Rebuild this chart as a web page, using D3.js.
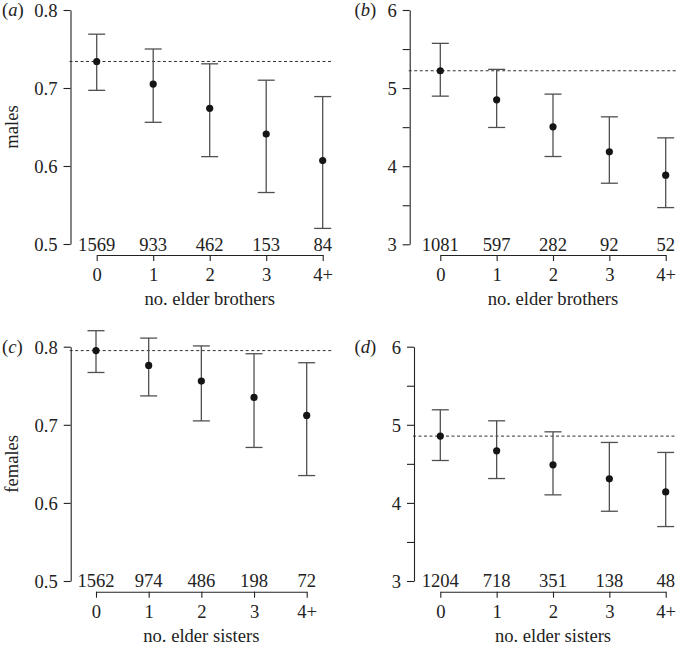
<!DOCTYPE html>
<html>
<head>
<meta charset="utf-8">
<script src="https://cdn.jsdelivr.net/npm/d3@7"></script>
<style>
html,body{margin:0;padding:0;background:#fff;}
svg{display:block;}
text{font-family:"Liberation Serif","Times New Roman",serif;fill:#222;}
</style>
</head>
<body>
<svg id="chart" width="676" height="647"></svg>
<script>
// ---- data ----
const categories = ["0", "1", "2", "3", "4+"];

const aMeans = [0.734, 0.705, 0.674, 0.641, 0.607];
const aLow   = [0.697, 0.656, 0.612, 0.566, 0.520];
const aHigh  = [0.769, 0.750, 0.731, 0.710, 0.689];
const aCounts = [1569, 933, 462, 153, 84];
const aRef = 0.734;

const bMeans = [5.222, 4.85, 4.504, 4.184, 3.885];
const bLow   = [4.897, 4.496, 4.124, 3.782, 3.47];
const bHigh  = [5.573, 5.24, 4.923, 4.632, 4.363];
const bCounts = [1081, 597, 282, 92, 52];
const bRef = 5.222;

const cMeans = [0.795, 0.776, 0.756, 0.735, 0.712];
const cLow   = [0.767, 0.737, 0.705, 0.671, 0.635];
const cHigh  = [0.8205, 0.811, 0.801, 0.791, 0.7795];
const cCounts = [1562, 974, 486, 198, 72];
const cRef = 0.795;

const dMeans = [4.855, 4.667, 4.487, 4.308, 4.141];
const dLow   = [4.543, 4.312, 4.103, 3.893, 3.697];
const dHigh  = [5.192, 5.051, 4.91, 4.774, 4.646];
const dCounts = [1204, 718, 351, 138, 48];
const dRef = 4.855;

const aTicks = [0.5, 0.6, 0.7, 0.8];
const bTicks = [3, 3.5, 4, 4.5, 5, 5.5, 6];

// ---- layout ----
const panels = [
  {label:"a", means:aMeans, low:aLow, high:aHigh, counts:aCounts, ref:aRef,
   domain:[0.5,0.8], ticks:aTicks, fmt:d3.format(".1f"), labelled:aTicks,
   axisX:70.5, yTop:10, yBot:244, xAxisY:255, xr:[96.7,322.7], dashEnd:333,
   ylab:"males", xlab:"no. elder brothers", labX:2},
  {label:"b", means:bMeans, low:bLow, high:bHigh, counts:bCounts, ref:bRef,
   domain:[3,6], ticks:bTicks, fmt:d3.format("d"), labelled:[3,4,5,6],
   axisX:409.7, yTop:10, yBot:244.3, xAxisY:255, xr:[440.3,665.7], dashEnd:676,
   ylab:null, xlab:"no. elder brothers", labX:354.5},
  {label:"c", means:cMeans, low:cLow, high:cHigh, counts:cCounts, ref:cRef,
   domain:[0.5,0.8], ticks:aTicks, fmt:d3.format(".1f"), labelled:aTicks,
   axisX:70.7, yTop:346.7, yBot:581, xAxisY:591.7, xr:[96,306.7], dashEnd:333,
   ylab:"females", xlab:"no. elder sisters", labX:2},
  {label:"d", means:dMeans, low:dLow, high:dHigh, counts:dCounts, ref:dRef,
   domain:[3,6], ticks:bTicks, fmt:d3.format("d"), labelled:[3,4,5,6],
   axisX:414, yTop:346.7, yBot:581, xAxisY:591.7, xr:[440.3,665.7], dashEnd:676,
   ylab:null, xlab:"no. elder sisters", labX:354.5}
];

const svg = d3.select("#chart");
const FS = 18.6;
const FONT = "'Liberation Serif', 'Times New Roman', serif";
const axisColor = "#222";
const barColor = "#505050";

panels.forEach(p => {
  const g = svg.append("g").style("font-family", FONT);
  const y = d3.scaleLinear().domain(p.domain).range([p.yBot, p.yTop]);
  const x = d3.scalePoint().domain(categories).range(p.xr);

  // y axis
  const yAx = g.append("g").attr("transform", `translate(${p.axisX},0)`)
    .call(d3.axisLeft(y).tickValues(p.ticks).tickSize(7).tickSizeOuter(0)
      .tickFormat(d => p.labelled.includes(d) ? p.fmt(d) : ""));
  yAx.attr("font-family", null).attr("font-size", null);
  yAx.selectAll("path,line").attr("stroke", axisColor).attr("stroke-width", 1.1);
  yAx.selectAll("text").style("font-family", FONT).attr("font-size", FS)
    .attr("fill", "#222").attr("x", -13).attr("dy", "0.34em");

  // x axis
  const xAx = g.append("g").attr("transform", `translate(0,${p.xAxisY})`)
    .call(d3.axisBottom(x).tickSize(6).tickSizeOuter(0));
  xAx.attr("font-family", null).attr("font-size", null);
  xAx.selectAll("path,line").attr("stroke", axisColor).attr("stroke-width", 1.1);
  xAx.selectAll("text").style("font-family", FONT).attr("font-size", FS)
    .attr("fill", "#222").attr("y", 13).attr("dy", "0.71em");

  // counts
  g.selectAll("text.count").data(p.counts).join("text").attr("class", "count")
    .attr("x", (d, i) => x(categories[i]))
    .attr("y", p.xAxisY - 4.5)
    .attr("text-anchor", "middle").attr("font-size", FS)
    .style("font-family", FONT)
    .text(d => d);

  // x label
  g.append("text").attr("x", (p.xr[0] + p.xr[1]) / 2).attr("y", p.xAxisY + 50)
    .attr("text-anchor", "middle").attr("font-size", FS)
    .style("font-family", FONT).text(p.xlab);

  // y label
  if (p.ylab) {
    g.append("text")
      .attr("transform", `translate(18,${(p.yTop + p.yBot) / 2}) rotate(-90)`)
      .attr("text-anchor", "middle").attr("font-size", FS)
      .style("font-family", FONT).text(p.ylab);
  }

  // panel label
  const pl = g.append("text").attr("x", p.labX).attr("y", p.yTop + 6)
    .attr("font-size", FS).style("font-family", FONT);
  pl.append("tspan").text("(");
  pl.append("tspan").attr("font-style", "italic").text(p.label);
  pl.append("tspan").text(")");

  // reference dashed line
  g.append("line")
    .attr("x1", p.axisX - 1).attr("x2", p.dashEnd)
    .attr("y1", y(p.ref)).attr("y2", y(p.ref))
    .attr("stroke", "#333").attr("stroke-width", 1).attr("stroke-dasharray", "3,2.5");

  // error bars
  const cap = 8.5;
  categories.forEach((c, i) => {
    const cx = x(c);
    g.append("line").attr("x1", cx).attr("x2", cx)
      .attr("y1", y(p.low[i])).attr("y2", y(p.high[i]))
      .attr("stroke", barColor).attr("stroke-width", 1.3);
    [p.low[i], p.high[i]].forEach(v => {
      g.append("line").attr("x1", cx - cap).attr("x2", cx + cap)
        .attr("y1", y(v)).attr("y2", y(v))
        .attr("stroke", barColor).attr("stroke-width", 1.3);
    });
  });

  // points
  g.selectAll("circle").data(p.means).join("circle")
    .attr("cx", (d, i) => x(categories[i]))
    .attr("cy", d => y(d))
    .attr("r", 3.6)
    .attr("fill", "#151515");
});
</script>
</body>
</html>
